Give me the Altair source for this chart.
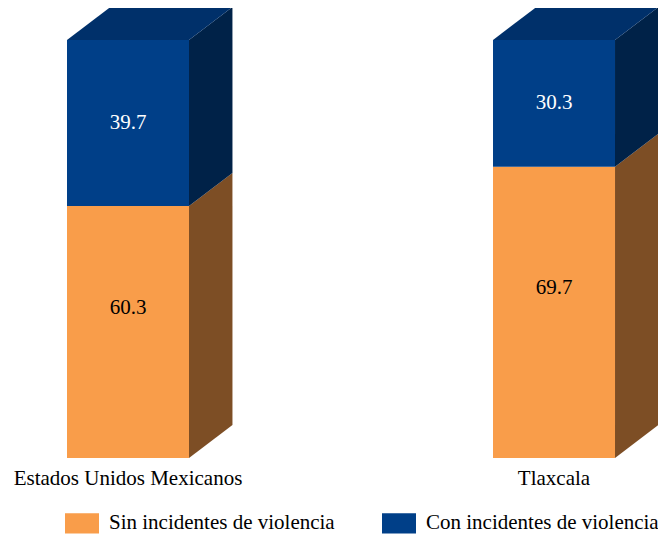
import altair as alt
import pandas as pd

# ---- data ----
categories = ["Estados Unidos Mexicanos", "Tlaxcala"]
series = ["Sin incidentes de violencia", "Con incidentes de violencia"]
sin_violencia = [60.3, 69.7]
con_violencia = [39.7, 30.3]

# ---- styles / geometry ----
front_colors = ["#F99D4A", "#003F88"]
side_colors = ["#7D4E25", "#002248"]
top_color = "#00306A"
text_colors = ["black", "white"]
text_offsets = [-24, 0]
FONT = "Liberation Serif"
HALF = 0.1432   # half bar width in x units
DX = 0.102      # depth (x units)
DY = 7.9        # depth (y units)

rows = []
for i, cat in enumerate(categories):
    base = 0.0
    for s, vals in zip(series, [sin_violencia, con_violencia]):
        v = vals[i]
        rows.append(dict(cat=cat, pos=i, series=s, value=v, lo=base, hi=base + v,
                         mid=base + v / 2, xl=i - HALF, xr=i + HALF))
        base += v
front = pd.DataFrame(rows)

side_rows = []
for r in rows:
    side_rows.append(dict(key=r["cat"], series=r["series"], x=r["xr"], lo=r["lo"], hi=r["hi"]))
    side_rows.append(dict(key=r["cat"], series=r["series"], x=r["xr"] + DX, lo=r["lo"] + DY, hi=r["hi"] + DY))
side = pd.DataFrame(side_rows)

top_rows = []
for i, cat in enumerate(categories):
    total = sin_violencia[i] + con_violencia[i]
    top_rows.append(dict(key=cat, y=total, xa=i - HALF, xb=i + HALF))
    top_rows.append(dict(key=cat, y=total + DY, xa=i - HALF + DX, xb=i + HALF + DX))
top = pd.DataFrame(top_rows)

xs = alt.Scale(domain=[-0.2817, 1.2441], nice=False, zero=False)
ys = alt.Scale(domain=[-18.18, 107.66], nice=False, zero=False)

layers = []
for s, c in zip(series, side_colors):
    layers.append(
        alt.Chart(side[side.series == s]).mark_area(orient="vertical", color=c).encode(
            x=alt.X("x:Q", scale=xs, axis=None),
            y=alt.Y("hi:Q", scale=ys, axis=None, stack=None),
            y2="lo:Q",
            detail="key:N",
        )
    )

layers.append(
    alt.Chart(top).mark_area(orient="horizontal", color=top_color).encode(
        y=alt.Y("y:Q", scale=ys, axis=None, stack=None),
        x=alt.X("xa:Q", scale=xs, axis=None),
        x2="xb:Q",
        detail="key:N",
    )
)

layers.append(
    alt.Chart(front).mark_rect().encode(
        x=alt.X("xl:Q", scale=xs, axis=None),
        x2="xr:Q",
        y=alt.Y("lo:Q", scale=ys, axis=None),
        y2="hi:Q",
        color=alt.Color(
            "series:N",
            scale=alt.Scale(domain=series, range=front_colors),
            legend=alt.Legend(
                title=None, orient="none", legendX=57, legendY=498,
                direction="horizontal",
                symbolType="M-1,-0.6H1V0.6H-1Z", symbolSize=1156,
                symbolStrokeWidth=0, symbolOpacity=1,
                labelFontSize=21, labelFont=FONT, labelColor="black",
                labelOffset=10, columnPadding=47, padding=0, labelLimit=400,
            ),
        ),
    )
)

for s, tc, off in zip(series, text_colors, text_offsets):
    layers.append(
        alt.Chart(front[front.series == s]).mark_text(
            font=FONT, fontSize=21, color=tc, yOffset=off, baseline="middle"
        ).encode(
            x=alt.X("pos:Q", scale=xs, axis=None),
            y=alt.Y("mid:Q", scale=ys, axis=None),
            text=alt.Text("value:Q", format=".1f"),
        )
    )

layers.append(
    alt.Chart(front[front.series == series[0]]).mark_text(
        font=FONT, fontSize=21, color="black", baseline="alphabetic", dy=27
    ).encode(
        x=alt.X("pos:Q", scale=xs, axis=None),
        y=alt.Y("lo:Q", scale=ys, axis=None),
        text="cat:N",
    )
)

chart = alt.layer(*layers).properties(
    width=650, height=526, padding=0, autosize=alt.AutoSizeParams(type="none")
).configure(font=FONT).configure_view(strokeWidth=0)

chart.save("out.html", embed_options={"renderer": "svg", "actions": False})
